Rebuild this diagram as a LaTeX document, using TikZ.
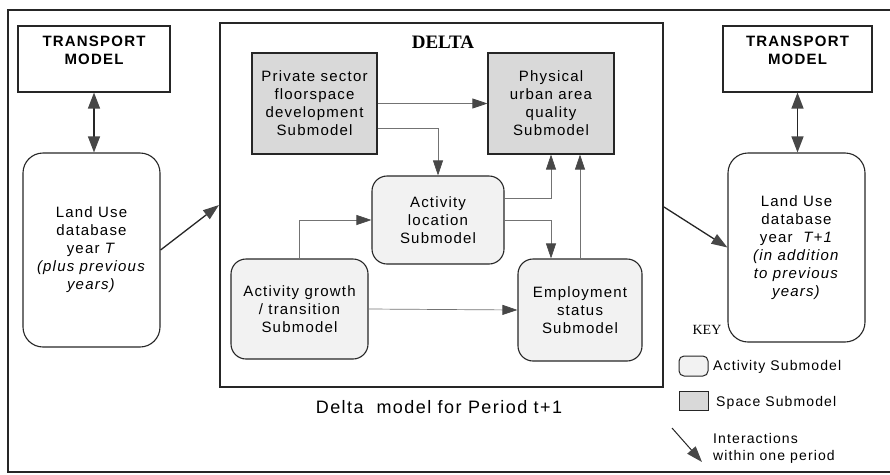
\documentclass[tikz,border=0pt]{standalone}
\usepackage{fontspec}
\setmainfont{Liberation Sans}[LetterSpace=8]
\newfontfamily\serifbf{Liberation Serif}
\usetikzlibrary{arrows.meta,calc}
\definecolor{spfill}{gray}{0.85}
\definecolor{actfill}{gray}{0.95}
\definecolor{tipc}{gray}{0.28}
\definecolor{connc}{gray}{0.45}
\definecolor{linec}{gray}{0.15}
\tikzset{
  txt/.style={font=\fontsize{15}{18}\selectfont, align=center, inner sep=0pt},
  plainbox/.style={draw=linec, line width=1.1pt, inner sep=0pt},
  dbbox/.style={draw=linec, line width=1.1pt, rounded corners=20pt, inner sep=0pt, font=\fontsize{15}{18}\selectfont, align=center},
  actbox/.style={draw=linec, line width=1.1pt, fill=actfill, rounded corners=15pt, inner sep=0pt, font=\fontsize{15}{18}\selectfont, align=center},
  spbox/.style={draw=linec, line width=1.1pt, fill=spfill, inner sep=0pt, font=\fontsize{15}{18}\selectfont, align=center},
  conn/.style={draw=connc, line width=0.7pt, -{Triangle[length=15pt,width=10pt,color=tipc,fill=tipc]}},
  mainarr/.style={draw=linec, line width=1.3pt, -{Triangle[length=16pt,width=11pt,color=tipc,fill=tipc]}},
  dblarr/.style={draw=linec, line width=1.3pt, {Triangle[length=16pt,width=12pt,color=tipc,fill=tipc]}-{Triangle[length=16pt,width=12pt,color=tipc,fill=tipc]}},
}
\begin{document}
\begin{tikzpicture}[x=1pt,y=-1pt]
\useasboundingbox (0,0) rectangle (890,474);
% outer frame
\draw[draw=linec, line width=2pt] (890,10) -- (8,10) -- (8,472) -- (890,472);

% left side
\node[plainbox, minimum width=152pt, minimum height=66pt] (tl) at (94,59) {};
\node[txt, font=\bfseries\fontsize{15}{18}\selectfont] (tlt) at (94,50) {TRANSPORT\\MODEL};
\node[dbbox, minimum width=137pt, minimum height=194pt] (ll) at (91.5,250)
  {Land Use\\database\\year \textit{T}\\\textit{(plus previous}\\\textit{years)}};

% DELTA frame
\node[draw=linec, line width=2pt, minimum width=443pt, minimum height=364pt, inner sep=0pt] (delta) at (441.5,205) {};
\node[font=\serifbf\bfseries\fontsize{19}{22}\selectfont, inner sep=0pt] (dtitle) at (443,42) {DELTA};

\node[spbox, minimum width=125pt, minimum height=101pt] (ps) at (314.5,103.5)
  {Private sector\\floorspace\\development\\Submodel};
\node[spbox, minimum width=126pt, minimum height=101pt] (pq) at (551,103.5)
  {Physical\\urban area\\quality\\Submodel};
\node[actbox, minimum width=132pt, minimum height=88pt] (al) at (438,220)
  {Activity\\location\\Submodel};
\node[actbox, minimum width=137pt, minimum height=100pt] (ag) at (299.5,309)
  {Activity growth\\/ transition\\Submodel};
\node[actbox, minimum width=124pt, minimum height=102pt] (es) at (580,310)
  {Employment\\status\\Submodel};

\node[txt, font=\fontsize{18}{21}\selectfont, inner sep=0pt] (cap) at (439,407) {Delta\ \ model for Period t+1};

% right side
\node[plainbox, minimum width=149pt, minimum height=66pt] (tr) at (797.5,59) {};
\node[txt, font=\bfseries\fontsize{15}{18}\selectfont] (trt) at (797.5,50) {TRANSPORT\\MODEL};
\node[dbbox, minimum width=137pt, minimum height=189pt] (lr) at (796.5,247.5)
  {Land Use\\database\\year\ \ \textit{T+1}\\\textit{(in addition}\\\textit{to previous}\\\textit{years)}};

% main arrows
\draw[dblarr] (tl.south) -- (tl.south |- ll.north);
\draw[dblarr] (tr.south) -- (tr.south |- lr.north);
\draw[mainarr] (ll.east) -- (delta.west);
\draw[mainarr] ($(delta.east)+(0,2)$) -- (lr.west);

% inner connectors
\draw[conn] (ps.east) -- (pq.west);
\draw[conn] ($(ps.east)+(0,25)$) -| (al.north);
\draw[conn] ($(al.east)+(0,-22)$) -| (pq.south);
\draw[conn] (al.east) -| (pq.south |- es.north);
\draw[conn] (es.north) -- (es.north |- pq.south);
\draw[conn] (ag.north) |- (al.west);
\draw[conn] (ag.east) -- (es.west);

% key
\node[font=\serifbf\fontsize{14}{16}\selectfont, inner sep=0pt] (key) at (707,330) {KEY};
\node[draw=linec, line width=1pt, fill=actfill, rounded corners=5pt, minimum width=29pt, minimum height=20pt, inner sep=0pt] (ka) at (693.5,366) {};
\node[font=\fontsize{14}{17}\selectfont, anchor=west, inner sep=0pt] (kat) at (713,367) {Activity Submodel};
\node[draw=linec, line width=1pt, fill=spfill, minimum width=29pt, minimum height=19pt, inner sep=0pt] (ks) at (693.5,400.5) {};
\node[font=\fontsize{14}{17}\selectfont, anchor=west, inner sep=0pt] (kst) at (716,403) {Space Submodel};
\coordinate (kaa) at (672,428);
\coordinate (kab) at (702,462);
\draw[mainarr, line width=1pt] (kaa) -- (kab);
\node[font=\fontsize{14}{17}\selectfont, anchor=west, align=left, inner sep=0pt] (kit) at (713,448) {Interactions\\within one period};
\end{tikzpicture}
\end{document}
